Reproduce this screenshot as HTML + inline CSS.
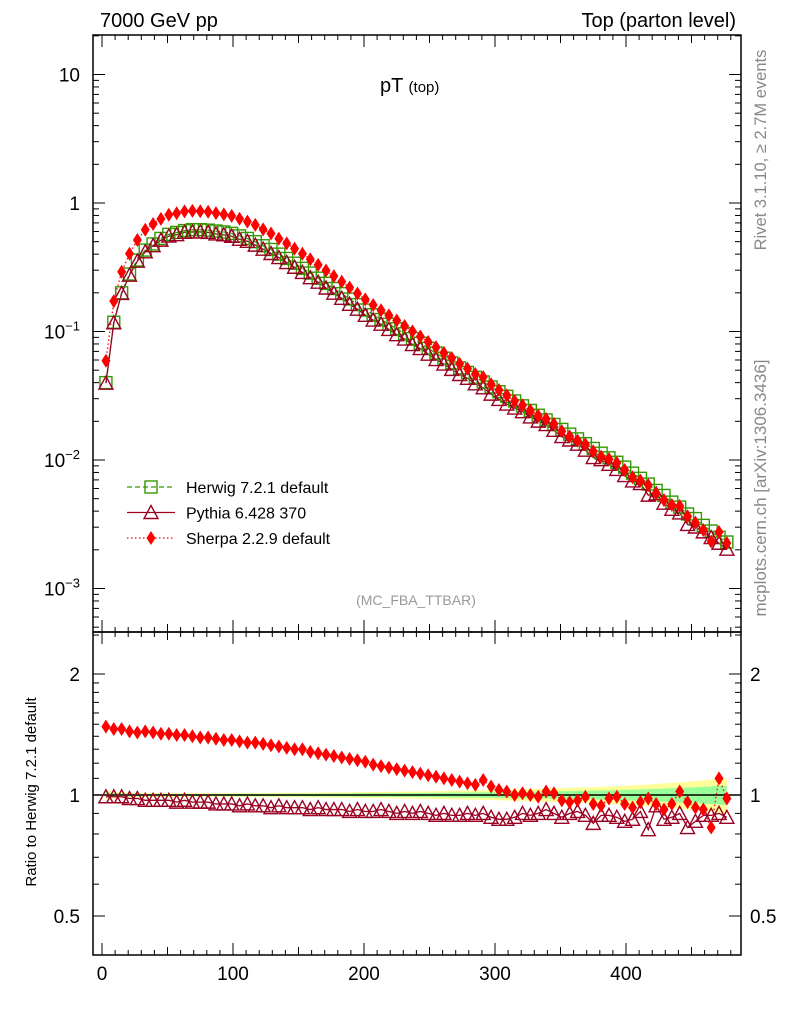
<!DOCTYPE html>
<html><head><meta charset="utf-8">
<style>
body{margin:0;background:#fff;}
svg{display:block;font-family:"Liberation Sans",sans-serif;}
</style></head>
<body>
<svg id="c" width="786" height="1024" viewBox="0 0 786 1024"></svg>
<script>
const xCenters = [];
for (let i = 0; i < 80; i++) xCenters.push(3 + 6 * i);
const herwig = [0.040,0.118,0.20,0.28,0.36,0.43,0.48,0.53,0.57,0.59,0.61,0.62,0.62,0.615,0.605,0.595,
0.58,0.555,0.53,0.50,0.465,0.435,0.40,0.37,0.34,0.31,0.285,0.26,0.237,0.216,0.197,0.179,0.162,0.147,
0.135,0.124,0.114,0.105,0.096,0.088,0.081,0.074,0.068,0.062,0.057,0.052,0.048,0.044,0.0405,0.037,
0.034,0.0313,0.0288,0.0264,0.0243,0.0223,0.0205,0.0189,0.0173,0.0159,0.0146,0.0134,0.0123,0.0113,0.0104,0.0096,0.0088,
0.0079,0.0072,0.0065,0.0058,0.0053,0.0047,0.0043,0.0038,0.0035,0.0031,0.0028,0.0025,0.0023];
const sherpaRatio = [1.48,1.46,1.46,1.44,1.43,1.44,1.43,1.42,1.42,1.41,1.41,1.40,1.39,1.39,1.38,1.37,
1.37,1.36,1.35,1.35,1.34,1.33,1.32,1.31,1.30,1.30,1.28,1.27,1.26,1.25,1.24,1.23,1.22,1.21,1.19,1.18,
1.17,1.16,1.15,1.14,1.13,1.12,1.11,1.10,1.09,1.08,1.07,1.06,1.09,1.05,1.03,1.02,1.00,1.01,1.00,0.99,
1.02,1.01,0.97,0.96,0.97,0.99,0.95,0.94,0.98,0.99,0.95,0.93,0.96,0.98,0.95,0.92,0.95,1.02,0.96,0.93,0.92,0.83,1.10,0.98];
const pythiaRatio = [0.99,0.99,0.99,0.98,0.98,0.97,0.97,0.97,0.97,0.96,0.97,0.96,0.96,0.96,0.95,0.95,
0.95,0.94,0.95,0.94,0.94,0.93,0.94,0.93,0.93,0.93,0.92,0.93,0.92,0.92,0.92,0.91,0.92,0.91,0.91,0.92,
0.91,0.90,0.91,0.90,0.91,0.90,0.89,0.90,0.89,0.89,0.90,0.89,0.90,0.88,0.87,0.87,0.88,0.90,0.89,0.90,
0.92,0.90,0.88,0.90,0.91,0.89,0.85,0.89,0.89,0.88,0.86,0.87,0.91,0.82,0.94,0.87,0.88,0.90,0.83,0.86,0.89,0.89,0.90,0.88];
const xTicks = [0,100,200,300,400];
const yTicksMain = [10,1,0.1,0.01,0.001];
const yTickLabelsMain = ["10","1","10<tspan dy='-8' font-size='13'>−1</tspan>","10<tspan dy='-8' font-size='13'>−2</tspan>","10<tspan dy='-8' font-size='13'>−3</tspan>"];
const ratioTicks = [2,1,0.5];

const L=93,R=741,T=35,M=632,B=955;
const X=v=>102+v*1.31;
const Y=v=>203-128.5*Math.log10(v);
const YR=r=>795-121*Math.log2(r);
const svg=document.getElementById('c');
const NS='http://www.w3.org/2000/svg';
function mk(tag,attrs,parent){const e=document.createElementNS(NS,tag);for(const k in attrs)e.setAttribute(k,attrs[k]);(parent||svg).appendChild(e);return e;}

// band in ratio panel
let up=[],dn=[],up2=[],dn2=[];
xCenters.forEach((x,i)=>{const e=0.16*Math.sqrt(0.0023/herwig[i])*0.6+0.005;const e2=e*0.55;
up.push(X(x)+','+YR(1+e));dn.unshift(X(x)+','+YR(1-e));up2.push(X(x)+','+YR(1+e2));dn2.unshift(X(x)+','+YR(1-e2));});
let b1=mk('polygon',{points:up.concat(dn).join(' '),fill:'#ffff99'});

let b2=mk('polygon',{points:up2.concat(dn2).join(' '),fill:'#99ff99'});


// frames
let f1=mk('rect',{x:L,y:T,width:R-L,height:M-T,fill:'none',stroke:'#000','stroke-width':1.5});

let f2=mk('rect',{x:L,y:M,width:R-L,height:B-M,fill:'none',stroke:'#000','stroke-width':1.5});


// x ticks
for(let v=0;v<=480;v+=10){const big=v%100===0,mid=v%50===0;const len=big?12:(mid?8:5);const x=X(v);
 [[M,-1],[B,-1],[T,1],[M,1]].forEach(([y,d])=>mk('line',{x1:x,x2:x,y1:y,y2:y+d*len,stroke:'#000'}));}
xTicks.forEach(v=>{const t=mk('text',{x:X(v),y:980,'font-size':19,'text-anchor':'middle'});t.textContent=v;
 });
// main y ticks
for(let d=-4;d<=1;d++){for(let m=1;m<=9;m++){const v=m*Math.pow(10,d);const y=Y(v);if(y<T||y>M)continue;const len=m===1?12:6;
 mk('line',{x1:L,x2:L+len,y1:y,y2:y,stroke:'#000'});mk('line',{x1:R,x2:R-len,y1:y,y2:y,stroke:'#000'});}}
yTicksMain.forEach((v,i)=>{const t=mk('text',{x:80,y:Y(v)+7,'font-size':19,'text-anchor':'end'});t.innerHTML=yTickLabelsMain[i];
 });
// ratio ticks
[0.4,0.5,0.6,0.7,0.8,0.9,1,1.1,1.2,1.3,1.4,1.5,1.6,1.7,1.8,1.9,2,2.5].forEach(v=>{const y=YR(v);if(y<M||y>B)return;const big=(v===0.5||v===1||v===2);const len=big?12:6;
 mk('line',{x1:L,x2:L+len,y1:y,y2:y,stroke:'#000'});mk('line',{x1:R,x2:R-len,y1:y,y2:y,stroke:'#000'});});
ratioTicks.forEach(v=>{[[80,'end'],[750,'start']].forEach(([x,a])=>{const t=mk('text',{x:x,y:YR(v)+7,'font-size':19,'text-anchor':a});t.textContent=v;
 });});
mk('line',{x1:L,x2:R,y1:YR(1),y2:YR(1),stroke:'#000','stroke-width':1.5});

// series
const colH='#339900',colP='#990022',colS='#ff0000';
function line(pts,col,dash,name){const p=mk('polyline',{points:pts.join(' '),fill:'none',stroke:col,'stroke-width':1.3,'stroke-dasharray':dash});
 }
function sq(x,y,col){mk('rect',{x:x-6,y:y-6,width:12,height:12,fill:'none',stroke:col,'stroke-width':1.4});}
function tri(x,y,col){mk('polygon',{points:`${x-7},${y+6} ${x+7},${y+6} ${x},${y-7}`,fill:'none',stroke:col,'stroke-width':1.4});}
function dia(x,y,col){mk('polygon',{points:`${x},${y-7} ${x+4.5},${y} ${x},${y+7} ${x-4.5},${y}`,fill:col});}

line(xCenters.map((x,i)=>X(x)+','+Y(herwig[i])),colH,'5,3','herwig-line');
line(xCenters.map((x,i)=>X(x)+','+Y(herwig[i]*pythiaRatio[i])),colP,'','pythia-line');
line(xCenters.map((x,i)=>X(x)+','+Y(herwig[i]*sherpaRatio[i])),colS,'1.5,2.5','sherpa-line');
xCenters.forEach((x,i)=>sq(X(x),Y(herwig[i]),colH));
xCenters.forEach((x,i)=>tri(X(x),Y(herwig[i]*pythiaRatio[i]),colP));
xCenters.forEach((x,i)=>dia(X(x),Y(herwig[i]*sherpaRatio[i]),colS));
// ratio series
line(xCenters.map((x,i)=>X(x)+','+YR(pythiaRatio[i])),colP,'','pythia-ratio-line');
line(xCenters.map((x,i)=>X(x)+','+YR(sherpaRatio[i])),colS,'1.5,2.5','sherpa-ratio-line');
xCenters.forEach((x,i)=>tri(X(x),YR(pythiaRatio[i]),colP));
xCenters.forEach((x,i)=>dia(X(x),YR(sherpaRatio[i]),colS));

// legend
const leg=[['Herwig 7.2.1 default',colH,'5,3',sq],['Pythia 6.428 370',colP,'',tri],['Sherpa 2.2.9 default',colS,'1.5,2.5',dia]];
leg.forEach((l,i)=>{const y=487+i*25.5;mk('line',{x1:127,x2:175,y1:y,y2:y,stroke:l[1],'stroke-width':1.3,'stroke-dasharray':l[2]});l[3](151,y,l[1]);
 const t=mk('text',{x:186,y:y+6,'font-size':16});t.textContent=l[0];});

// texts
function txt(s,attrs,name){const t=mk('text',attrs);t.innerHTML=s;}
txt('7000 GeV pp',{x:100,y:27,'font-size':20},'energy-label');
txt('Top (parton level)',{x:736,y:27,'font-size':20,'text-anchor':'end'},'process-label');
txt('pT <tspan font-size="15">(top)</tspan>',{x:380,y:92,'font-size':20},'plot-title');
txt('(MC_FBA_TTBAR)',{x:416,y:605,'font-size':14,fill:'#999','text-anchor':'middle'},'analysis-label');
txt('Rivet 3.1.10, ≥ 2.7M events',{x:0,y:0,'font-size':16.5,fill:'#888','text-anchor':'middle',transform:'translate(766,150) rotate(-90)'},'rivet-label');
txt('mcplots.cern.ch [arXiv:1306.3436]',{x:0,y:0,'font-size':17,fill:'#888','text-anchor':'middle',transform:'translate(766,488) rotate(-90)'},'mcplots-label');
txt('Ratio to Herwig 7.2.1 default',{x:0,y:0,'font-size':15,'text-anchor':'middle',transform:'translate(36,792) rotate(-90)'},'ratio-y-axis-title');
</script>
</body></html>
